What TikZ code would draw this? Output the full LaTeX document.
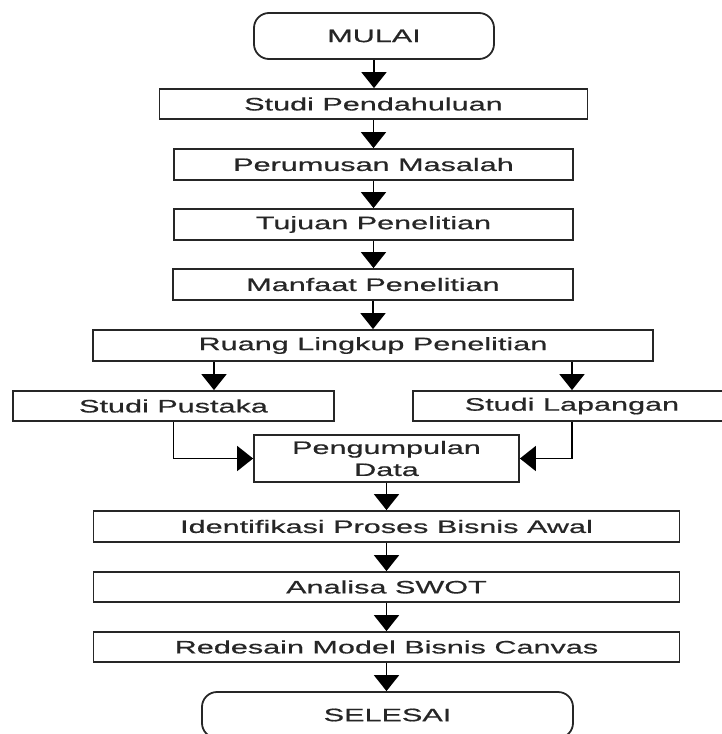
\documentclass[tikz,border=0pt]{standalone}
\usepackage{fontspec}
\setmainfont[FakeStretch=1.7,FakeBold=0.6]{Liberation Sans}
\usetikzlibrary{arrows.meta}
\begin{document}
\begin{tikzpicture}[x=1pt,y=-1pt,
  box/.style={draw=black!85, line width=1.8pt, inner sep=0pt, font=\fontsize{18}{22}\selectfont, align=center, text=black!85},
  term/.style={box, rounded corners=15pt},
  arr/.style={draw=black, line width=1.8pt, -{Triangle[length=16pt,width=25pt]}}]
\useasboundingbox (0,0) rectangle (722,734);
\clip (0,0) rectangle (722,734);
\node[term, minimum width=240pt, minimum height=46pt] (mulai) at (374,36) {MULAI};
\node[box, minimum width=428pt, minimum height=30pt] (sp) at (373.5,104) {Studi Pendahuluan};
\node[box, minimum width=399pt, minimum height=31pt] (pm) at (373.5,164.5) {Perumusan Masalah};
\node[box, minimum width=399pt, minimum height=31pt] (tp) at (373.5,224.5) {Tujuan Penelitian};
\node[box, minimum width=400pt, minimum height=31pt] (mp) at (373,284.5) {Manfaat Penelitian};
\node[box, minimum width=560pt, minimum height=31pt] (rl) at (373,345.5) {Ruang Lingkup Penelitian};
\node[box, minimum width=321pt, minimum height=30pt] (spu) at (173.5,406) {Studi Pustaka};
\node[box, minimum width=318pt, minimum height=30pt] (sl) at (572,406) {Studi Lapangan};
\node[box, minimum width=265pt, minimum height=47pt] (pd) at (386.5,458.5) {Pengumpulan\\Data};
\node[box, minimum width=586pt, minimum height=31pt] (id) at (386.5,526.5) {Identifikasi Proses Bisnis Awal};
\node[box, minimum width=586pt, minimum height=30pt] (as) at (386.5,587) {Analisa SWOT};
\node[box, minimum width=586pt, minimum height=30pt] (rd) at (386.5,647) {Redesain Model Bisnis Canvas};
\node[term, minimum width=371pt, minimum height=46pt] (se) at (387.5,715) {SELESAI};
\coordinate (xl) at (214,0);
\coordinate (xr) at (572,0);
\draw[arr] (mulai.south) -- (mulai.south |- sp.north);
\draw[arr] (sp.south) -- (sp.south |- pm.north);
\draw[arr] (pm.south) -- (pm.south |- tp.north);
\draw[arr] (tp.south) -- (tp.south |- mp.north);
\draw[arr] (mp.south) -- (mp.south |- rl.north);
\draw[arr] (rl.south -| xl) -- (spu.north -| xl);
\draw[arr] (rl.south -| xr) -- (sl.north -| xr);
\draw[arr] (spu.south) |- (pd.west);
\draw[arr] (sl.south) |- (pd.east);
\draw[arr] (pd.south) -- (pd.south |- id.north);
\draw[arr] (id.south) -- (id.south |- as.north);
\draw[arr] (as.south) -- (as.south |- rd.north);
\draw[arr] (rd.south) -- (rd.south |- se.north);
\end{tikzpicture}
\end{document}
